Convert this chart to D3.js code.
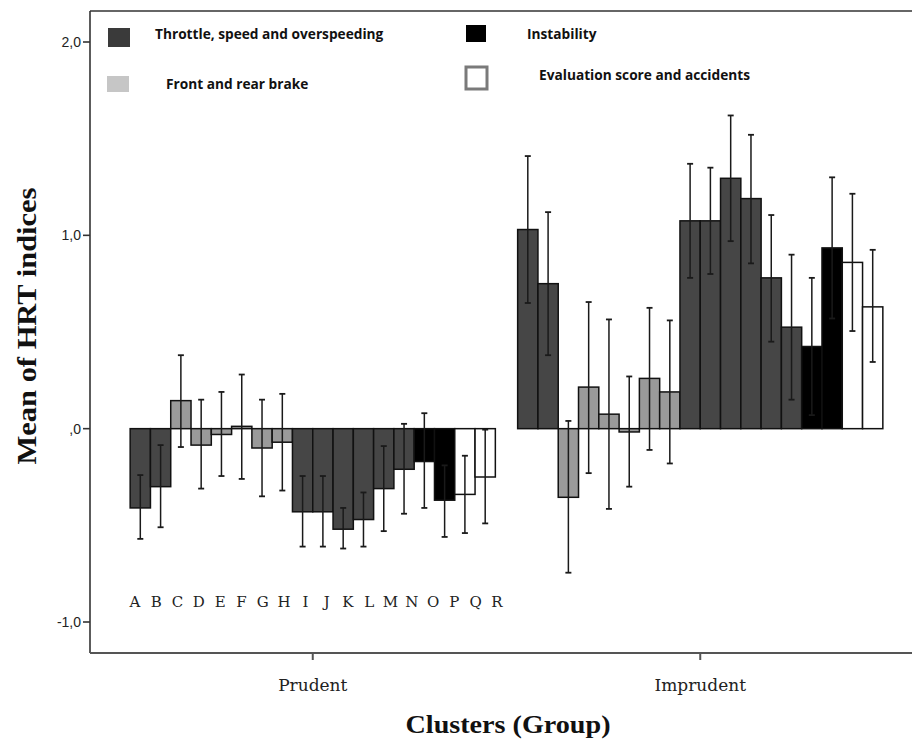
<!DOCTYPE html>
<html>
<head>
<meta charset="utf-8">
<script src="https://cdn.jsdelivr.net/npm/d3@7"></script>
<style>
  body { margin: 0; background: #fff; }
  svg { display: block; }
</style>
</head>
<body>
<div id="chart"></div>
<script>
// clusters on the x axis, one bar per HRT index (A..R) in each cluster
var groups = ["Prudent", "Imprudent"];
var letters = ["A","B","C","D","E","F","G","H","I","J","K","L","M","N","O","P","Q","R"];
// which legend category each index belongs to
var indexCategory = [0,0,1,1,1,1,1,1,0,0,0,0,0,0,2,2,3,3];
var categories = ["Throttle, speed and overspeeding", "Front and rear brake", "Instability", "Evaluation score and accidents"];

// means and error bar ends
var prudentMean = [-0.41,-0.30,0.145,-0.085,-0.03,0.012,-0.10,-0.07,-0.43,-0.43,-0.52,-0.47,-0.31,-0.21,-0.17,-0.37,-0.34,-0.25];
var prudentLow  = [-0.57,-0.51,-0.095,-0.31,-0.245,-0.26,-0.35,-0.32,-0.61,-0.61,-0.62,-0.61,-0.53,-0.44,-0.41,-0.56,-0.54,-0.49];
var prudentHigh = [-0.24,-0.085,0.38,0.15,0.19,0.28,0.15,0.18,-0.245,-0.245,-0.41,-0.33,-0.09,0.025,0.08,-0.19,-0.14,-0.005];
var imprudentMean = [1.03,0.75,-0.355,0.215,0.075,-0.017,0.26,0.19,1.075,1.075,1.295,1.19,0.78,0.525,0.425,0.935,0.86,0.63];
var imprudentLow  = [0.65,0.38,-0.745,-0.23,-0.415,-0.30,-0.11,-0.18,0.78,0.80,0.97,0.855,0.45,0.15,0.07,0.57,0.505,0.345];
var imprudentHigh = [1.41,1.12,0.04,0.655,0.565,0.27,0.625,0.56,1.37,1.35,1.62,1.52,1.105,0.90,0.78,1.30,1.215,0.925];

var yTicks = [2, 1, 0, -1];
var yTickLabels = ["2,0", "1,0", ",0", "-1,0"];

var fills = ["#464646", "#9a9a9a", "#000000", "#ffffff"];

var width = 912, height = 740;
var frame = {left: 90, top: 11, bottom: 653, right: 912};

var svg = d3.select("#chart").append("svg").attr("width", width).attr("height", height);

var y = d3.scaleLinear().domain([-1, 2]).range([622, 42]);
var x0 = d3.scaleBand().domain(groups).range([119, 894]);
var x1 = d3.scaleBand().domain(letters).range([0, x0.bandwidth()]).paddingOuter(0.55);
var letterX = d3.scalePoint().domain(letters).range([135, 497]);

// build rows from the arrays
var rows = [];
groups.forEach(function(g, gi) {
    var m = gi === 0 ? prudentMean : imprudentMean;
    var lo = gi === 0 ? prudentLow : imprudentLow;
    var hi = gi === 0 ? prudentHigh : imprudentHigh;
    letters.forEach(function(l, i) {
        rows.push({group: g, letter: l, mean: m[i], low: lo[i], high: hi[i], cat: indexCategory[i]});
    });
});

// frame
svg.append("line").attr("x1", frame.left).attr("x2", frame.right).attr("y1", frame.top).attr("y2", frame.top)
    .attr("stroke", "#666").attr("stroke-width", 2);

// y axis
var yAxis = svg.append("g").attr("transform", "translate(" + frame.left + ",0)");
yAxis.append("line").attr("x1", 0).attr("x2", 0).attr("y1", frame.top).attr("y2", frame.bottom)
    .attr("stroke", "#333").attr("stroke-width", 1.6);
yTicks.forEach(function(t, i) {
    yAxis.append("line").attr("x1", -7).attr("x2", 0).attr("y1", y(t)).attr("y2", y(t))
        .attr("stroke", "#333").attr("stroke-width", 1.6);
    yAxis.append("text").attr("x", -9).attr("y", y(t)).attr("dy", "0.35em")
        .attr("text-anchor", "end").attr("font-family", "Liberation Sans, Arial, sans-serif")
        .attr("font-size", 14).attr("fill", "#222").text(yTickLabels[i]);
});

// x axis
var xAxis = svg.append("g").attr("transform", "translate(0," + frame.bottom + ")");
xAxis.append("line").attr("x1", frame.left).attr("x2", frame.right).attr("y1", 0).attr("y2", 0)
    .attr("stroke", "#555").attr("stroke-width", 2);
groups.forEach(function(g) {
    var cx = x0(g) + x0.bandwidth() / 2;
    xAxis.append("line").attr("x1", cx).attr("x2", cx).attr("y1", 0).attr("y2", 7)
        .attr("stroke", "#555").attr("stroke-width", 2);
    xAxis.append("text").attr("x", cx).attr("y", 38).attr("text-anchor", "middle")
        .attr("font-family", "DejaVu Serif, serif").attr("font-size", 17).attr("fill", "#222").text(g);
});

// bars
svg.append("g").selectAll("rect").data(rows).join("rect")
    .attr("x", function(d) { return x0(d.group) + x1(d.letter); })
    .attr("width", x1.bandwidth())
    .attr("y", function(d) { return y(Math.max(0, d.mean)); })
    .attr("height", function(d) { return Math.abs(y(d.mean) - y(0)); })
    .attr("fill", function(d) { return fills[d.cat]; })
    .attr("stroke", "#111").attr("stroke-width", 1.5);

// error bars
var eb = svg.append("g").selectAll("g").data(rows).join("g")
    .attr("transform", function(d) { return "translate(" + (x0(d.group) + x1(d.letter) + x1.bandwidth() / 2) + ",0)"; });
eb.append("line").attr("y1", function(d) { return y(d.low); }).attr("y2", function(d) { return y(d.high); })
    .attr("stroke", "#1a1a1a").attr("stroke-width", 1.5);
eb.append("line").attr("x1", -3).attr("x2", 3).attr("y1", function(d) { return y(d.low); }).attr("y2", function(d) { return y(d.low); })
    .attr("stroke", "#1a1a1a").attr("stroke-width", 1.8);
eb.append("line").attr("x1", -3).attr("x2", 3).attr("y1", function(d) { return y(d.high); }).attr("y2", function(d) { return y(d.high); })
    .attr("stroke", "#1a1a1a").attr("stroke-width", 1.8);

// index letters under the prudent bars
svg.append("g").selectAll("text").data(letters).join("text")
    .attr("x", function(d) { return letterX(d); }).attr("y", 607)
    .attr("text-anchor", "middle").attr("font-family", "DejaVu Serif, serif")
    .attr("font-size", 15).attr("fill", "#222").text(function(d) { return d; });

// legend
var legendItems = [
    {cat: 0, bx: 108, by: 28, bw: 22, bh: 19, tx: 155, ty: 34},
    {cat: 1, bx: 107, by: 76, bw: 22, bh: 16, tx: 166, ty: 84},
    {cat: 2, bx: 466, by: 25, bw: 20, bh: 17, tx: 527, ty: 34},
    {cat: 3, bx: 466, by: 67, bw: 21, bh: 22, tx: 539, ty: 75}
];
var lg = svg.append("g").selectAll("g").data(legendItems).join("g");
lg.append("rect")
    .attr("x", function(d) { return d.bx; }).attr("y", function(d) { return d.by; })
    .attr("width", function(d) { return d.bw; }).attr("height", function(d) { return d.bh; })
    .attr("fill", function(d) { return d.cat === 1 ? "#c6c6c6" : (d.cat === 0 ? "#3a3a3a" : fills[d.cat]); })
    .attr("stroke", function(d) { return d.cat === 3 ? "#7a7a7a" : "none"; })
    .attr("stroke-width", 3);
lg.append("text")
    .attr("x", function(d) { return d.tx; }).attr("y", function(d) { return d.ty; }).attr("dy", "0.35em")
    .attr("font-family", "Open Sans, Lato, sans-serif").attr("font-weight", "bold")
    .attr("font-size", 13.7).attr("fill", "#111").text(function(d) { return categories[d.cat]; });

// axis titles
svg.append("text").attr("transform", "translate(36,326) rotate(-90)")
    .attr("text-anchor", "middle").attr("font-family", "Liberation Serif, Times New Roman, serif")
    .attr("font-weight", "bold").attr("font-size", 28).attr("fill", "#111")
    .attr("textLength", 277).attr("lengthAdjust", "spacingAndGlyphs").text("Mean of HRT indices");
svg.append("text").attr("x", 508).attr("y", 733)
    .attr("text-anchor", "middle").attr("font-family", "Liberation Serif, Times New Roman, serif")
    .attr("font-weight", "bold").attr("font-size", 26).attr("fill", "#111")
    .attr("textLength", 205).attr("lengthAdjust", "spacingAndGlyphs").text("Clusters (Group)");
</script>
</body>
</html>
